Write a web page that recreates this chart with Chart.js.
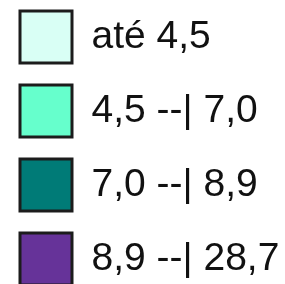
<!DOCTYPE html>
<html>
<head>
<meta charset="utf-8">
<script src="https://cdn.jsdelivr.net/npm/chart.js@4/dist/chart.umd.min.js"></script>
<style>
  html, body { margin: 0; padding: 0; background: #ffffff; overflow: hidden; width: 285px; height: 284px; }
  #wrap { position: absolute; left: -2px; top: -11px; width: 300px; height: 340px; }
</style>
</head>
<body>
<div id="wrap"><canvas id="c" width="300" height="340"></canvas></div>
<script>
const classLabels = ["até 4,5", "4,5 --| 7,0", "7,0 --| 8,9", "8,9 --| 28,7"];
const classColors = ["#D9FFF5", "#66FFCC", "#007B77", "#663399"];
const classValues = [[], [], [], []];

const datasets = classLabels.map((lab, i) => ({
  label: lab,
  data: classValues[i],
  backgroundColor: classColors[i],
  borderColor: "#1c1c1c",
  borderWidth: 3
}));

new Chart(document.getElementById("c"), {
  type: "bar",
  data: { labels: [], datasets: datasets },
  options: {
    responsive: false,
    animation: false,
    devicePixelRatio: 1,
    layout: { padding: 0 },
    scales: { x: { display: false }, y: { display: false } },
    plugins: {
      tooltip: { enabled: false },
      legend: {
        display: true,
        position: "chartArea",
        align: "start",
        labels: {
          boxWidth: 52,
          boxHeight: 52,
          padding: 22,
          color: "#111111",
          font: { family: "'Liberation Sans', Arial, sans-serif", size: 39 }
        }
      }
    }
  }
});
</script>
</body>
</html>
